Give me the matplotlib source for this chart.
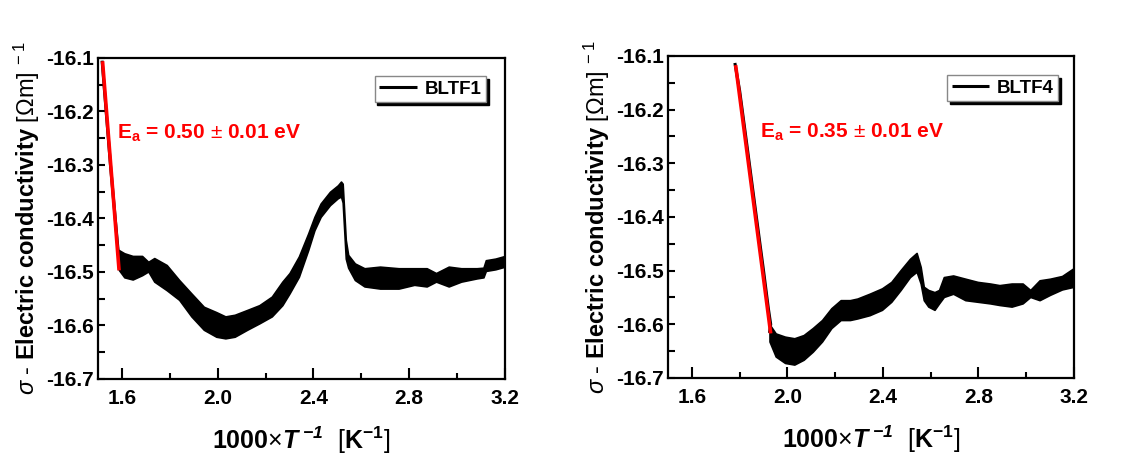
import matplotlib
matplotlib.use("Agg")
import matplotlib.pyplot as plt
from matplotlib.ticker import MultipleLocator, FormatStrFormatter

plt.rcParams['font.family'] = ['Liberation Sans', 'DejaVu Sans']
plt.rcParams['mathtext.fontset'] = 'custom'
plt.rcParams['mathtext.rm'] = 'Liberation Sans'
plt.rcParams['mathtext.it'] = 'Liberation Sans:italic'
plt.rcParams['mathtext.bf'] = 'Liberation Sans:bold'
plt.rcParams['mathtext.bfit'] = 'Liberation Sans:italic:bold'

# ---------------- BLTF1 ----------------
b1_steep_x = [1.517, 1.552, 1.585]
b1_steep_y = [-16.105, -16.300, -16.465]
b1_x = [1.587, 1.610, 1.645, 1.684, 1.710, 1.735, 1.787, 1.839, 1.890, 1.942,
        1.994, 2.032, 2.071, 2.123, 2.174, 2.226, 2.270, 2.300, 2.339, 2.378,
        2.404, 2.430, 2.469, 2.502, 2.515, 2.522, 2.535, 2.545, 2.573, 2.613,
        2.678, 2.756, 2.821, 2.873, 2.912, 2.965, 3.017, 3.082, 3.110, 3.120,
        3.160, 3.200]
b1_top = [-16.459, -16.465, -16.470, -16.470, -16.481, -16.474, -16.487, -16.515, -16.540, -16.565,
          -16.575, -16.583, -16.580, -16.571, -16.562, -16.546, -16.518, -16.502, -16.471, -16.428,
          -16.397, -16.372, -16.350, -16.338, -16.331, -16.335, -16.440, -16.468, -16.484, -16.493,
          -16.490, -16.493, -16.493, -16.493, -16.502, -16.490, -16.493, -16.493, -16.492, -16.478,
          -16.475, -16.470]
b1_bot = [-16.496, -16.510, -16.514, -16.506, -16.499, -16.518, -16.534, -16.552, -16.583, -16.608,
          -16.621, -16.624, -16.621, -16.608, -16.596, -16.583, -16.562, -16.540, -16.509, -16.459,
          -16.422, -16.397, -16.375, -16.362, -16.359, -16.370, -16.475, -16.492, -16.515, -16.527,
          -16.531, -16.531, -16.524, -16.527, -16.518, -16.527, -16.518, -16.512, -16.510, -16.498,
          -16.495, -16.490]
b1_fit_x = [1.519, 1.588]
b1_fit_y = [-16.106, -16.497]

# ---------------- BLTF4 ----------------
b4_steep_x = [1.780, 1.800, 1.830, 1.870, 1.900, 1.920, 1.930]
b4_steep_y = [-16.113, -16.165, -16.265, -16.400, -16.500, -16.570, -16.600]
b4_x = [1.925, 1.951, 1.990, 2.029, 2.068, 2.106, 2.145, 2.184, 2.223, 2.262,
        2.293, 2.344, 2.396, 2.435, 2.474, 2.513, 2.541, 2.558, 2.571, 2.590,
        2.616, 2.635, 2.655, 2.694, 2.745, 2.797, 2.849, 2.888, 2.939, 2.985,
        3.017, 3.056, 3.100, 3.150, 3.200]
b4_top = [-16.600, -16.617, -16.623, -16.626, -16.620, -16.607, -16.592, -16.570, -16.555, -16.555,
          -16.552, -16.543, -16.533, -16.521, -16.499, -16.478, -16.467, -16.493, -16.530, -16.536,
          -16.540, -16.536, -16.512, -16.509, -16.515, -16.521, -16.524, -16.527, -16.524, -16.524,
          -16.536, -16.518, -16.515, -16.510, -16.495]
b4_bot = [-16.632, -16.660, -16.672, -16.675, -16.666, -16.651, -16.632, -16.607, -16.592, -16.592,
          -16.589, -16.583, -16.573, -16.558, -16.536, -16.512, -16.502, -16.524, -16.555, -16.567,
          -16.573, -16.561, -16.549, -16.543, -16.555, -16.558, -16.561, -16.564, -16.567, -16.561,
          -16.549, -16.555, -16.545, -16.535, -16.530]
b4_fit_x = [1.783, 1.930]
b4_fit_y = [-16.117, -16.617]

x_ticks = [1.6, 2.0, 2.4, 2.8, 3.2]
y_ticks = [-16.7, -16.6, -16.5, -16.4, -16.3, -16.2, -16.1]

fig = plt.figure(figsize=(11.33, 4.57), dpi=100)
ax1 = fig.add_axes([0.0865, 0.1707, 0.3592, 0.7024])
ax2 = fig.add_axes([0.5896, 0.1729, 0.3583, 0.7046])

panels = [
    (ax1, b1_steep_x, b1_steep_y, b1_x, b1_top, b1_bot, b1_fit_x, b1_fit_y, 'BLTF1',
     r'E$_\mathbf{a}$ = 0.50 $\pm$ 0.01 eV', (0.047, 0.766), (0.953, 0.944)),
    (ax2, b4_steep_x, b4_steep_y, b4_x, b4_top, b4_bot, b4_fit_x, b4_fit_y, 'BLTF4',
     r'E$_\mathbf{a}$ = 0.35 $\pm$ 0.01 eV', (0.227, 0.763), (0.961, 0.941)),
]

for (ax, sx, sy, bx, bt, bb, fx, fy, name, ea, tpos, lpos) in panels:
    line, = ax.plot(sx + [bx[0]], sy + [(bt[0] + bb[0]) / 2], color='black', lw=2.2,
                    solid_capstyle='butt')
    ax.fill_between(bx, bt, bb, color='black', lw=1.2, edgecolor='black')
    ax.plot(fx, fy, color='#ff0000', lw=2.6, solid_capstyle='butt')
    ax.set_xlim(1.5, 3.2)
    ax.set_ylim(-16.7, -16.1)
    ax.xaxis.set_minor_locator(MultipleLocator(0.2))
    ax.yaxis.set_minor_locator(MultipleLocator(0.05))
    ax.set_xticks(x_ticks)
    ax.set_yticks(y_ticks)
    ax.xaxis.set_major_formatter(FormatStrFormatter('%.1f'))
    ax.yaxis.set_major_formatter(FormatStrFormatter('%.1f'))
    ax.tick_params(axis='both', which='both', direction='in', top=False, right=False,
                   width=1.5, labelsize=15)
    ax.tick_params(axis='x', which='major', length=8, pad=7)
    ax.tick_params(axis='x', which='minor', length=4)
    ax.tick_params(axis='y', which='major', length=5, pad=3)
    ax.tick_params(axis='y', which='minor', length=5)
    for lab in ax.get_xticklabels() + ax.get_yticklabels():
        lab.set_fontweight('bold')
    for sp in ax.spines.values():
        sp.set_linewidth(1.6)
    ax.set_xlabel(r'$\mathbf{1000}{\times}\mathbfit{T}^{\ \mathbfit{-1}}\ \ \mathrm{[}\mathbf{K}^{\mathbf{-1}}\mathrm{]}$',
                  fontsize=18, labelpad=12)
    ax.set_ylabel(r'$\sigma$ - $\mathbf{Electric\ conductivity}$ $[\Omega\mathrm{m}]^{\ -1}$',
                  fontsize=17, labelpad=3)
    ax.text(tpos[0], tpos[1], ea, transform=ax.transAxes, color='#ff0000',
            fontsize=15, fontweight='bold', va='center', ha='left')
    leg = ax.legend([line], [name], loc='upper right', bbox_to_anchor=lpos,
                    borderaxespad=0, fancybox=False, frameon=True,
                    shadow={'color': 'black', 'alpha': 1.0},
                    prop={'weight': 'bold', 'size': 13.5},
                    handlelength=2.0, handletextpad=0.4, borderpad=0.25)
    leg.get_frame().set_edgecolor('#888888')
    leg.get_frame().set_linewidth(1.0)
    leg.get_frame().set_alpha(1.0)

fig.savefig('out.png', dpi=100)
